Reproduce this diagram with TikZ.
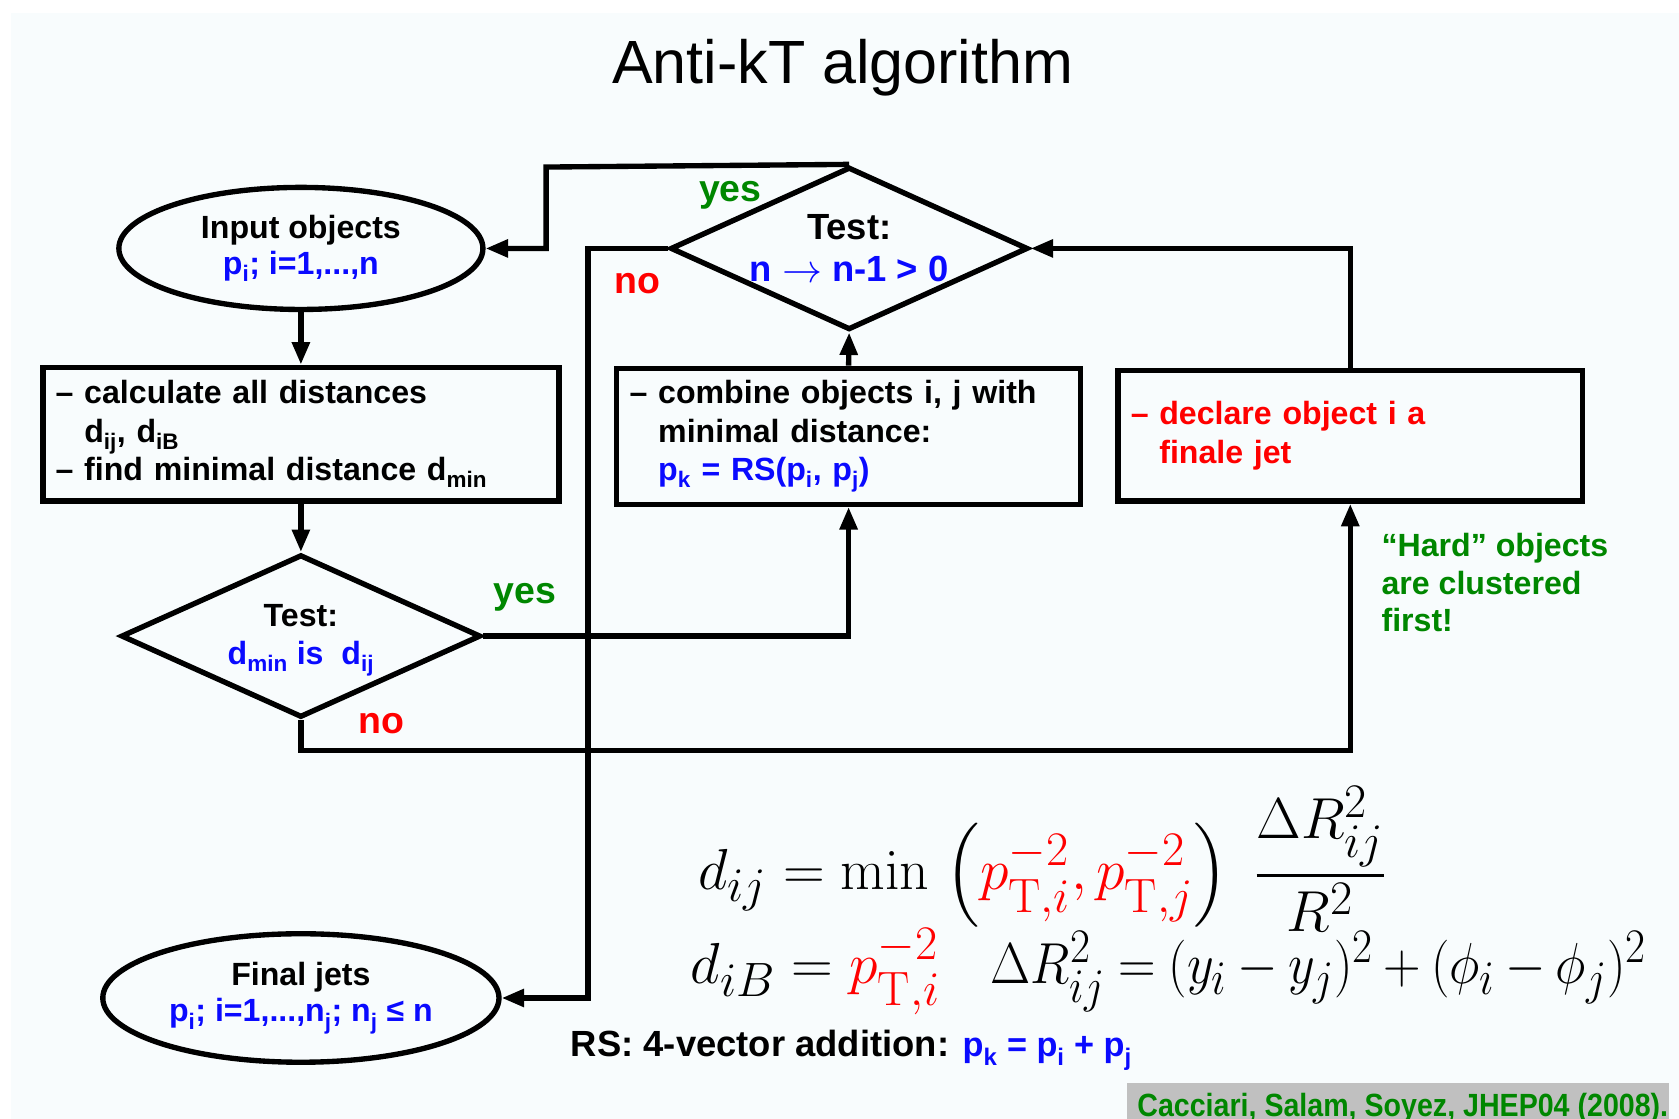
\documentclass[tikz,border=0pt]{standalone}
\usepackage{amsmath}
\usepackage[no-math]{fontspec}
\setmainfont{Liberation Sans}
\usetikzlibrary{shapes.geometric,arrows.meta}

\definecolor{cblue}{RGB}{10,10,255}
\definecolor{cred}{RGB}{255,0,0}
\definecolor{cgreen}{RGB}{0,135,0}
\definecolor{slide}{RGB}{248,252,253}
\definecolor{citebg}{RGB}{192,192,192}

\newcommand\flowfont{\fontsize{30}{36}\selectfont\bfseries}
% large formulas: set at 24.88pt and enlarged
\newcommand\bigmath[1]{\scalebox{2.17}{\fontsize{24.88}{30}\selectfont #1}}

\begin{document}
\begin{tikzpicture}[x=1pt,y=-1pt,
  flow/.style={line width=5pt,-{Triangle[length=21pt,width=16pt]}},
  stepbox/.style={draw,rectangle,line width=5pt,align=left,inner xsep=12pt,inner ysep=0pt,font=\flowfont},
  oval/.style={draw,ellipse,line width=5pt,align=center,inner sep=0pt,font=\fontsize{30}{34}\selectfont\bfseries},
  decision/.style={draw,diamond,line width=5pt,inner sep=0pt},
  lab/.style={font=\fontsize{35}{40}\selectfont\bfseries,inner sep=0pt}]

% page and slide background
\useasboundingbox (0,0) rectangle (1568,1045);
\fill[white] (0,0) rectangle (1568,1045);
\fill[slide] (10,12) rectangle (1568,1045);

% title
\node[font=\fontsize{57}{60}\selectfont,anchor=base,inner sep=0pt] (title) at (787,78) {Anti-kT algorithm};

% start and end
\node[oval,minimum width=340pt,minimum height=114pt] (in) at (281,232)
  {Input objects\\ \textcolor{cblue}{p\textsubscript{i}; i=1,...,n}};
\node[oval,minimum width=370pt,minimum height=120pt] (fin) at (281,932)
  {Final jets\\ \textcolor{cblue}{p\textsubscript{i}; i=1,...,n\textsubscript{j}; n\textsubscript{j} ≤ n}};

% processing steps
\node[stepbox,text width=458pt,minimum height=125pt] (b1) at (281,405.5)
  {\textendash\ calculate all distances\\
   \phantom{\textendash}\ d\textsubscript{ij}, d\textsubscript{iB}\\
   \textendash\ find minimal distance d\textsubscript{min}};
\node[stepbox,text width=409pt,minimum height=127pt] (b2) at (792.5,407.5)
  {\textendash\ combine objects i, j with\\
   \phantom{\textendash}\ minimal distance:\\
   \phantom{\textendash}\ \textcolor{cblue}{p\textsubscript{k} = RS(p\textsubscript{i}, p\textsubscript{j})}};
\node[stepbox,text=cred,text width=410pt,minimum height=122pt] (b3) at (1261,407)
  {\textendash\ declare object i a\\
   \phantom{\textendash}\ finale jet};

% decisions
\node[decision,minimum width=336pt,minimum height=152pt] (d1) at (281,594) {};
\node[font=\flowfont,align=center,inner sep=0pt] (d1txt) at ([yshift=-4pt]d1.center)
  {Test:\\ \textcolor{cblue}{d\textsubscript{min} is~ d\textsubscript{ij}}};
\node[decision,minimum width=334pt,minimum height=152pt] (d2) at (793,232) {};
\node[font=\fontsize{34}{40}\selectfont\bfseries,align=center,inner sep=0pt] (d2txt) at (d2.center)
  {Test:\\ \textcolor{cblue}{n \raisebox{-1pt}{\scalebox{1.5}{$\rightarrow$}} n-1 > 0}};

% routing points
\coordinate (lowrail) at (0,701);
\coordinate (yesturn) at (510,156);
\coordinate (noturn) at (549,232);

% connectors
\draw[flow] (in.south) -- (b1.north);
\draw[flow] (b1.south) -- (d1.north);
\draw[flow] (d1.east) -| (b2.south);
\draw[flow] (d1.south) -- (d1.south |- lowrail) -| (b3.south);
\draw[flow] (b2.north) -- (d2.south);
\draw[flow] (b3.north) |- (d2.east);
\draw[flow] (d2.north) -- (yesturn) |- (in.east);
\draw[flow] (d2.west) -- (noturn) |- (fin.east);

% branch labels
\node[lab,text=cgreen] (yes1) at (490,558) {yes};
\node[lab,text=cgreen] (yes2) at (682,182) {yes};
\node[lab,text=cred] (no1) at (356,676) {no};
\node[lab,text=cred] (no2) at (595,265) {no};

% remark
\node[font=\fontsize{30}{35}\selectfont\bfseries,text=cgreen,align=left,anchor=west,inner sep=0pt] (hard) at (1290,544)
  {“Hard” objects\\ are clustered\\ first!};

% distance measures
\node[anchor=base west,inner sep=0pt] (dij) at (652,831)
  {\bigmath{$d_{ij} = \min\;\Bigl(\textcolor{cred}{p_{\mathrm{T},i}^{-2}, p_{\mathrm{T},j}^{-2}}\Bigr)\;\,\dfrac{\Delta R_{ij}^2}{R^2}$}};
\node[anchor=base west,inner sep=0pt] (diB) at (645,918)
  {\bigmath{$d_{iB} = \textcolor{cred}{p_{\mathrm{T},i}^{-2}}$}};
\node[anchor=base west,inner sep=0pt] (dR) at (925,918)
  {\scalebox{0.9}[1]{\bigmath{\medmuskip=3.5mu\thickmuskip=4.5mu$\Delta R_{ij}^2 = (y_i - y_j)^2 + (\phi_i - \phi_j)^2$}}};

% recombination scheme
\node[font=\fontsize{34}{38}\selectfont\bfseries,anchor=base west,inner sep=0pt] (rs) at (533,987)
  {RS: 4-vector addition: {\fontsize{32}{36}\selectfont\textcolor{cblue}{p\textsubscript{k} = p\textsubscript{i} + p\textsubscript{j}}}};

% reference
\node[fill=citebg,anchor=north west,minimum width=506pt,minimum height=40pt,inner sep=0pt] (citebox) at (1052,1011) {};
\node[font=\fontsize{30}{34}\selectfont\bfseries,text=cgreen,anchor=base west,inner sep=0pt] (cite) at (1062,1043)
  {\scalebox{0.89}[1]{Cacciari, Salam, Soyez, JHEP04 (2008).}};
\end{tikzpicture}
\end{document}
